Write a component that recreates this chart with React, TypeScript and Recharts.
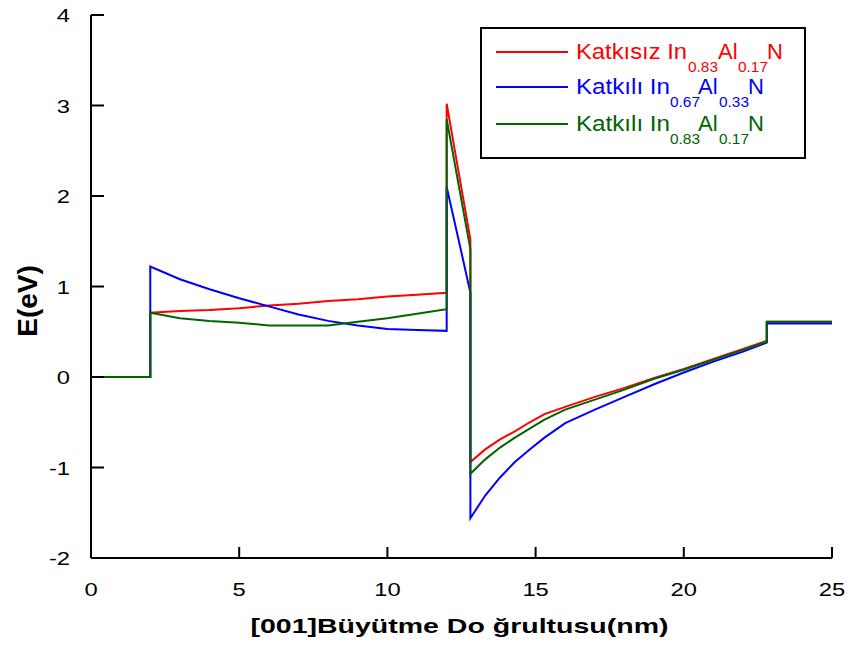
import { LineChart, Line, XAxis, YAxis, Legend } from 'recharts';

// position along [001] growth direction (nm); repeated x = vertical step
const xNm = [0, 2, 2, 3, 4, 5, 6, 7, 8, 9, 10, 11, 12, 12, 12.4, 12.8, 12.8, 13.3, 13.8, 14.3, 14.8, 15.3, 16, 17, 18, 19, 20, 21, 22, 22.8, 22.8, 25];

// E (eV)
const undoped083 = [0, 0, 0.71, 0.73, 0.74, 0.76, 0.79, 0.81, 0.84, 0.86, 0.89, 0.91, 0.93, 3.02, 2.27, 1.52, -0.94, -0.8, -0.69, -0.6, -0.5, -0.41, -0.33, -0.22, -0.12, -0.01, 0.09, 0.2, 0.31, 0.4, 0.61, 0.61];
const doped067 = [0, 0, 1.22, 1.08, 0.97, 0.87, 0.78, 0.69, 0.62, 0.57, 0.53, 0.52, 0.51, 2.1, 1.52, 0.93, -1.56, -1.31, -1.11, -0.94, -0.8, -0.67, -0.51, -0.36, -0.22, -0.08, 0.05, 0.17, 0.28, 0.38, 0.59, 0.59];
const doped083 = [0, 0, 0.71, 0.65, 0.62, 0.6, 0.57, 0.57, 0.57, 0.61, 0.65, 0.7, 0.75, 2.85, 2.13, 1.41, -1.07, -0.91, -0.78, -0.67, -0.57, -0.47, -0.36, -0.25, -0.14, -0.02, 0.08, 0.19, 0.3, 0.39, 0.61, 0.61];

const xTicks = [0, 5, 10, 15, 20, 25];
const yTicks = [-2, -1, 0, 1, 2, 3, 4];

const series = [
  { key: 'undoped083', values: undoped083, color: '#ff0000', label: 'Katkısız In', sub1: '0.83', sub2: '0.17' },
  { key: 'doped067', values: doped067, color: '#0000ff', label: 'Katkılı In', sub1: '0.67', sub2: '0.33' },
  { key: 'doped083', values: doped083, color: '#006400', label: 'Katkılı In', sub1: '0.83', sub2: '0.17' },
];

const toPoints = (ys: number[]) => xNm.map((x, i) => ({ x, y: ys[i] }));

const FONT = '"Liberation Sans", Arial, sans-serif';

function XTick({ x, y, payload }: any) {
  return (
    <text transform={`translate(${x},${y}) scale(1.25,1)`} textAnchor="middle" fontSize={19} fontFamily={FONT} fill="#000">
      {payload.value}
    </text>
  );
}

function YTick({ x, y, payload }: any) {
  return (
    <text transform={`translate(${x},${y + 7}) scale(1.25,1)`} textAnchor="end" fontSize={19} fontFamily={FONT} fill="#000">
      {payload.value}
    </text>
  );
}

const EmptyTick = () => <g />;

function LegendBox() {
  const rows = [
    { y: 25, sub: [208, 238, 258, 287], mainLen: 111 },
    { y: 60, sub: [190, 218, 239, 268], mainLen: 94 },
    { y: 97, sub: [190, 218, 239, 268], mainLen: 94 },
  ];
  return (
    <svg width={326} height={132} style={{ display: 'block' }}>
      <rect x={1} y={1} width={324} height={130} fill="#fff" stroke="#000" strokeWidth={2} />
      {series.map((s, i) => {
        const r = rows[i];
        const base = r.y + 7;
        return (
          <g key={s.key} fill={s.color} fontFamily={FONT}>
            <line x1={16} x2={88} y1={r.y} y2={r.y} stroke={s.color} strokeWidth={2} />
            <text x={96} y={base} fontSize={22} textLength={r.mainLen} lengthAdjust="spacingAndGlyphs">{s.label}</text>
            <text x={r.sub[0]} y={base + 13} fontSize={14} textLength={30} lengthAdjust="spacingAndGlyphs">{s.sub1}</text>
            <text x={r.sub[1]} y={base} fontSize={22}>Al</text>
            <text x={r.sub[2]} y={base + 13} fontSize={14} textLength={30} lengthAdjust="spacingAndGlyphs">{s.sub2}</text>
            <text x={r.sub[3]} y={base} fontSize={22}>N</text>
          </g>
        );
      })}
    </svg>
  );
}

export default function App() {
  return (
    <div style={{ position: 'absolute', left: 0, top: 0, width: 850, height: 646, background: '#fff', fontFamily: FONT }}>
      <LineChart width={850} height={646} margin={{ top: 15, right: 18, bottom: 0, left: 0 }}>
        <XAxis
          xAxisId="bottom"
          dataKey="x"
          type="number"
          domain={[0, 25]}
          ticks={xTicks}
          height={88}
          tickSize={-11}
          tickMargin={49}
          tick={XTick}
          axisLine={{ stroke: '#000', strokeWidth: 2 }}
          tickLine={{ stroke: '#000', strokeWidth: 2 }}
          label={(props: any) => {
            const vb = props.viewBox;
            return (
              <text
                x={vb.x + vb.width / 2 - 2}
                y={vb.y + 75}
                textAnchor="middle"
                fontSize={21}
                fontWeight="bold"
                fontFamily={FONT}
                textLength={418}
                lengthAdjust="spacingAndGlyphs"
                fill="#000"
              >
                [001]Büyütme Do ğrultusu(nm)
              </text>
            );
          }}
        />
        <XAxis
          xAxisId="top"
          orientation="top"
          type="number"
          domain={[0, 25]}
          ticks={xTicks}
          height={0}
          tickSize={-11}
          tick={EmptyTick}
          axisLine={{ stroke: '#000', strokeWidth: 2 }}
          tickLine={{ stroke: '#000', strokeWidth: 2 }}
        />
        <YAxis
          yAxisId="left"
          type="number"
          domain={[-2, 4]}
          ticks={yTicks}
          width={91}
          tickSize={-13}
          tickMargin={34}
          tick={YTick}
          axisLine={{ stroke: '#000', strokeWidth: 2 }}
          tickLine={{ stroke: '#000', strokeWidth: 2 }}
          label={() => (
            <text
              transform="translate(37,301) rotate(-90)"
              textAnchor="middle"
              fontSize={28}
              fontWeight="bold"
              fontFamily={FONT}
              fill="#000"
            >
              E(eV)
            </text>
          )}
        />
        <YAxis
          yAxisId="right"
          orientation="right"
          type="number"
          domain={[-2, 4]}
          ticks={yTicks}
          width={0}
          tickSize={-13}
          tick={EmptyTick}
          axisLine={{ stroke: '#000', strokeWidth: 2 }}
          tickLine={{ stroke: '#000', strokeWidth: 2 }}
        />
        {series.map((s) => (
          <Line
            key={s.key}
            xAxisId="bottom"
            yAxisId="left"
            data={toPoints(s.values)}
            dataKey="y"
            type="linear"
            stroke={s.color}
            strokeWidth={2}
            dot={false}
            activeDot={false}
            isAnimationActive={false}
          />
        ))}
        <Legend
          layout="vertical"
          align="center"
          verticalAlign="middle"
          content={() => <LegendBox />}
          wrapperStyle={{ top: 27, left: 480, width: 326, height: 132 }}
        />
      </LineChart>
    </div>
  );
}
